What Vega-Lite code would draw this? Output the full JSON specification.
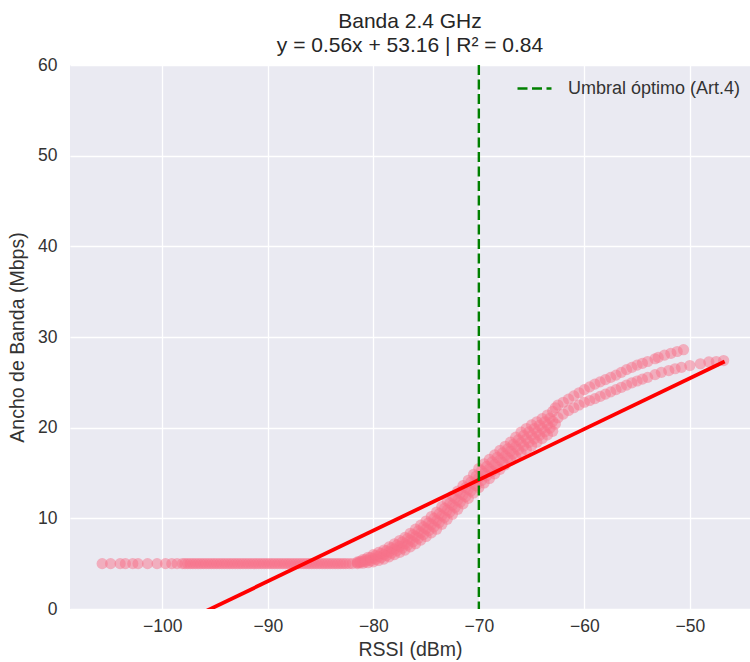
{
  "$schema": "https://vega.github.io/schema/vega-lite/v6.json",
  "width": 680,
  "height": 544,
  "autosize": {"type": "none"},
  "padding": {"left": 70, "top": 65, "right": 0, "bottom": 53},
  "background": "white",
  "title": {
    "text": ["Banda 2.4 GHz", "y = 0.56x + 53.16 | R² = 0.84"],
    "fontSize": 21,
    "fontWeight": "normal",
    "font": "Liberation Sans",
    "color": "#262626",
    "anchor": "middle",
    "lineHeight": 24,
    "offset": 0
  },
  "config": {
    "view": {"fill": "#EAEAF2", "stroke": null},
    "font": "Liberation Sans",
    "axis": {
      "domain": false,
      "ticks": false,
      "grid": true,
      "gridColor": "#ffffff",
      "gridWidth": 1.3,
      "labelFont": "Liberation Sans",
      "labelFontSize": 17.5,
      "labelColor": "#333333",
      "titleFont": "Liberation Sans",
      "titleFontSize": 19.5,
      "titleFontWeight": "normal",
      "titleColor": "#333333"
    }
  },
  "datasets": {
    "pts": [
      {"rssi": -105.7, "bw": 5}, {"rssi": -104.9, "bw": 5}, {"rssi": -104.0, "bw": 5}, {"rssi": -103.5, "bw": 5},
      {"rssi": -102.8, "bw": 5}, {"rssi": -102.3, "bw": 5}, {"rssi": -101.4, "bw": 5}, {"rssi": -100.5, "bw": 5},
      {"rssi": -99.7, "bw": 5}, {"rssi": -99.1, "bw": 5}, {"rssi": -98.6, "bw": 5}, {"rssi": -98.1, "bw": 5},
      {"rssi": -97.6, "bw": 5}, {"rssi": -97.1, "bw": 5}, {"rssi": -96.6, "bw": 5}, {"rssi": -96.1, "bw": 5},
      {"rssi": -95.6, "bw": 5}, {"rssi": -95.1, "bw": 5}, {"rssi": -94.6, "bw": 5}, {"rssi": -94.1, "bw": 5},
      {"rssi": -93.6, "bw": 5}, {"rssi": -93.1, "bw": 5}, {"rssi": -92.6, "bw": 5}, {"rssi": -92.1, "bw": 5},
      {"rssi": -91.6, "bw": 5}, {"rssi": -91.1, "bw": 5}, {"rssi": -90.6, "bw": 5}, {"rssi": -90.1, "bw": 5},
      {"rssi": -89.6, "bw": 5}, {"rssi": -89.1, "bw": 5}, {"rssi": -88.6, "bw": 5}, {"rssi": -88.1, "bw": 5},
      {"rssi": -87.6, "bw": 5}, {"rssi": -87.1, "bw": 5}, {"rssi": -86.6, "bw": 5}, {"rssi": -86.1, "bw": 5},
      {"rssi": -85.6, "bw": 5}, {"rssi": -85.1, "bw": 5}, {"rssi": -84.6, "bw": 5}, {"rssi": -84.1, "bw": 5},
      {"rssi": -83.6, "bw": 5}, {"rssi": -83.1, "bw": 5}, {"rssi": -82.6, "bw": 5}, {"rssi": -82.0, "bw": 5},
      {"rssi": -97.85, "bw": 5}, {"rssi": -97.35, "bw": 5}, {"rssi": -96.85, "bw": 5}, {"rssi": -96.35, "bw": 5},
      {"rssi": -95.85, "bw": 5}, {"rssi": -95.35, "bw": 5}, {"rssi": -94.85, "bw": 5}, {"rssi": -94.35, "bw": 5},
      {"rssi": -93.85, "bw": 5}, {"rssi": -93.35, "bw": 5}, {"rssi": -92.85, "bw": 5}, {"rssi": -92.35, "bw": 5},
      {"rssi": -91.85, "bw": 5}, {"rssi": -91.35, "bw": 5}, {"rssi": -90.85, "bw": 5}, {"rssi": -90.35, "bw": 5},
      {"rssi": -89.85, "bw": 5}, {"rssi": -89.35, "bw": 5}, {"rssi": -88.85, "bw": 5}, {"rssi": -88.35, "bw": 5},
      {"rssi": -87.85, "bw": 5}, {"rssi": -87.35, "bw": 5}, {"rssi": -86.85, "bw": 5}, {"rssi": -86.35, "bw": 5},
      {"rssi": -85.85, "bw": 5}, {"rssi": -85.35, "bw": 5}, {"rssi": -84.85, "bw": 5}, {"rssi": -84.35, "bw": 5},
      {"rssi": -83.85, "bw": 5}, {"rssi": -83.35, "bw": 5}, {"rssi": -82.85, "bw": 5}, {"rssi": -82.3, "bw": 5},
      {"rssi": -81.5, "bw": 5.0}, {"rssi": -81.5, "bw": 5.1}, {"rssi": -81.5, "bw": 5.2},
      {"rssi": -81.0, "bw": 5.05}, {"rssi": -81.0, "bw": 5.25}, {"rssi": -81.0, "bw": 5.45},
      {"rssi": -80.5, "bw": 5.1}, {"rssi": -80.5, "bw": 5.4}, {"rssi": -80.5, "bw": 5.7},
      {"rssi": -80.0, "bw": 5.2}, {"rssi": -80.0, "bw": 5.6}, {"rssi": -80.0, "bw": 6.0},
      {"rssi": -79.5, "bw": 5.35}, {"rssi": -79.5, "bw": 5.8}, {"rssi": -79.5, "bw": 6.25},
      {"rssi": -79.0, "bw": 5.5}, {"rssi": -79.0, "bw": 6.0}, {"rssi": -79.0, "bw": 6.5},
      {"rssi": -78.5, "bw": 5.75}, {"rssi": -78.5, "bw": 6.3}, {"rssi": -78.5, "bw": 6.85},
      {"rssi": -78.0, "bw": 6.0}, {"rssi": -78.0, "bw": 6.6}, {"rssi": -78.0, "bw": 7.2},
      {"rssi": -77.5, "bw": 6.25}, {"rssi": -77.5, "bw": 6.9}, {"rssi": -77.5, "bw": 7.55},
      {"rssi": -77.0, "bw": 6.5}, {"rssi": -77.0, "bw": 7.2}, {"rssi": -77.0, "bw": 7.9},
      {"rssi": -76.5, "bw": 6.85}, {"rssi": -76.5, "bw": 7.6}, {"rssi": -76.5, "bw": 8.35},
      {"rssi": -76.0, "bw": 7.2}, {"rssi": -76.0, "bw": 8.0}, {"rssi": -76.0, "bw": 8.8},
      {"rssi": -75.5, "bw": 7.6}, {"rssi": -75.5, "bw": 8.4}, {"rssi": -75.5, "bw": 9.25},
      {"rssi": -75.0, "bw": 8.0}, {"rssi": -75.0, "bw": 8.85}, {"rssi": -75.0, "bw": 9.7},
      {"rssi": -74.5, "bw": 8.4}, {"rssi": -74.5, "bw": 9.3}, {"rssi": -74.5, "bw": 10.2},
      {"rssi": -74.0, "bw": 8.8}, {"rssi": -74.0, "bw": 9.75}, {"rssi": -74.0, "bw": 10.7},
      {"rssi": -73.5, "bw": 9.35}, {"rssi": -73.5, "bw": 10.3}, {"rssi": -73.5, "bw": 11.3},
      {"rssi": -73.0, "bw": 9.9}, {"rssi": -73.0, "bw": 10.9}, {"rssi": -73.0, "bw": 11.9},
      {"rssi": -72.5, "bw": 10.45}, {"rssi": -72.5, "bw": 11.45}, {"rssi": -72.5, "bw": 12.45},
      {"rssi": -72.0, "bw": 11.0}, {"rssi": -72.0, "bw": 12.0}, {"rssi": -72.0, "bw": 13.0},
      {"rssi": -71.5, "bw": 11.6}, {"rssi": -71.5, "bw": 12.6}, {"rssi": -71.5, "bw": 13.6},
      {"rssi": -71.0, "bw": 12.2}, {"rssi": -71.0, "bw": 13.2}, {"rssi": -71.0, "bw": 14.2},
      {"rssi": -70.5, "bw": 12.8}, {"rssi": -70.5, "bw": 13.8}, {"rssi": -70.5, "bw": 14.85},
      {"rssi": -70.0, "bw": 13.4}, {"rssi": -70.0, "bw": 14.45}, {"rssi": -70.0, "bw": 15.5},
      {"rssi": -69.5, "bw": 13.9}, {"rssi": -69.5, "bw": 14.95}, {"rssi": -69.5, "bw": 16.0},
      {"rssi": -69.0, "bw": 14.4}, {"rssi": -69.0, "bw": 15.45}, {"rssi": -69.0, "bw": 16.5},
      {"rssi": -68.5, "bw": 14.9}, {"rssi": -68.5, "bw": 15.95}, {"rssi": -68.5, "bw": 17.0},
      {"rssi": -68.0, "bw": 15.4}, {"rssi": -68.0, "bw": 16.45}, {"rssi": -68.0, "bw": 17.5},
      {"rssi": -67.5, "bw": 15.9}, {"rssi": -67.5, "bw": 16.9}, {"rssi": -67.5, "bw": 17.95},
      {"rssi": -67.0, "bw": 16.4}, {"rssi": -67.0, "bw": 17.4}, {"rssi": -67.0, "bw": 18.4},
      {"rssi": -66.5, "bw": 16.8}, {"rssi": -66.5, "bw": 17.9}, {"rssi": -66.5, "bw": 18.95},
      {"rssi": -66.0, "bw": 17.2}, {"rssi": -66.0, "bw": 18.35}, {"rssi": -66.0, "bw": 19.5},
      {"rssi": -65.5, "bw": 17.6}, {"rssi": -65.5, "bw": 18.75}, {"rssi": -65.5, "bw": 19.9},
      {"rssi": -65.0, "bw": 18.0}, {"rssi": -65.0, "bw": 19.15}, {"rssi": -65.0, "bw": 20.3},
      {"rssi": -64.5, "bw": 18.4}, {"rssi": -64.5, "bw": 19.5}, {"rssi": -64.5, "bw": 20.65},
      {"rssi": -64.0, "bw": 18.8}, {"rssi": -64.0, "bw": 19.9}, {"rssi": -64.0, "bw": 21.0},
      {"rssi": -63.5, "bw": 19.2}, {"rssi": -63.5, "bw": 20.3}, {"rssi": -63.5, "bw": 21.4},
      {"rssi": -63.0, "bw": 19.6}, {"rssi": -63.0, "bw": 20.7}, {"rssi": -63.0, "bw": 21.8},
      {"rssi": -81.25, "bw": 5.1}, {"rssi": -81.25, "bw": 5.25},
      {"rssi": -80.75, "bw": 5.2}, {"rssi": -80.75, "bw": 5.45},
      {"rssi": -80.25, "bw": 5.33}, {"rssi": -80.25, "bw": 5.68},
      {"rssi": -79.75, "bw": 5.49}, {"rssi": -79.75, "bw": 5.92},
      {"rssi": -79.25, "bw": 5.67}, {"rssi": -79.25, "bw": 6.14},
      {"rssi": -78.75, "bw": 5.89}, {"rssi": -78.75, "bw": 6.42},
      {"rssi": -78.25, "bw": 6.17}, {"rssi": -78.25, "bw": 6.74},
      {"rssi": -77.75, "bw": 6.44}, {"rssi": -77.75, "bw": 7.07},
      {"rssi": -77.25, "bw": 6.72}, {"rssi": -77.25, "bw": 7.39},
      {"rssi": -76.75, "bw": 7.04}, {"rssi": -76.75, "bw": 7.77},
      {"rssi": -76.25, "bw": 7.42}, {"rssi": -76.25, "bw": 8.19},
      {"rssi": -75.75, "bw": 7.81}, {"rssi": -75.75, "bw": 8.62},
      {"rssi": -75.25, "bw": 8.22}, {"rssi": -75.25, "bw": 9.06},
      {"rssi": -74.75, "bw": 8.64}, {"rssi": -74.75, "bw": 9.51},
      {"rssi": -74.25, "bw": 9.06}, {"rssi": -74.25, "bw": 9.99},
      {"rssi": -73.75, "bw": 9.56}, {"rssi": -73.75, "bw": 10.52},
      {"rssi": -73.25, "bw": 10.12}, {"rssi": -73.25, "bw": 11.11},
      {"rssi": -72.75, "bw": 10.68}, {"rssi": -72.75, "bw": 11.68},
      {"rssi": -72.25, "bw": 11.23}, {"rssi": -72.25, "bw": 12.23},
      {"rssi": -71.75, "bw": 11.8}, {"rssi": -71.75, "bw": 12.8},
      {"rssi": -71.25, "bw": 12.4}, {"rssi": -71.25, "bw": 13.4},
      {"rssi": -70.75, "bw": 13.01}, {"rssi": -70.75, "bw": 14.02},
      {"rssi": -70.25, "bw": 13.62}, {"rssi": -70.25, "bw": 14.66},
      {"rssi": -69.75, "bw": 14.18}, {"rssi": -69.75, "bw": 15.23},
      {"rssi": -69.25, "bw": 14.68}, {"rssi": -69.25, "bw": 15.73},
      {"rssi": -68.75, "bw": 15.18}, {"rssi": -68.75, "bw": 16.23},
      {"rssi": -68.25, "bw": 15.68}, {"rssi": -68.25, "bw": 16.73},
      {"rssi": -67.75, "bw": 16.17}, {"rssi": -67.75, "bw": 17.21},
      {"rssi": -67.25, "bw": 16.66}, {"rssi": -67.25, "bw": 17.67},
      {"rssi": -66.75, "bw": 17.12}, {"rssi": -66.75, "bw": 18.16},
      {"rssi": -66.25, "bw": 17.56}, {"rssi": -66.25, "bw": 18.67},
      {"rssi": -65.75, "bw": 17.98}, {"rssi": -65.75, "bw": 19.13},
      {"rssi": -65.25, "bw": 18.38}, {"rssi": -65.25, "bw": 19.53},
      {"rssi": -64.75, "bw": 18.77}, {"rssi": -64.75, "bw": 19.91},
      {"rssi": -64.25, "bw": 19.16}, {"rssi": -64.25, "bw": 20.27},
      {"rssi": -63.75, "bw": 19.55}, {"rssi": -63.75, "bw": 20.65},
      {"rssi": -63.25, "bw": 19.95}, {"rssi": -63.25, "bw": 21.05},
      {"rssi": -62.75, "bw": 20.4}, {"rssi": -62.75, "bw": 22.2},
      {"rssi": -62.5, "bw": 22.5}, {"rssi": -62.0, "bw": 22.8}, {"rssi": -61.5, "bw": 23.15}, {"rssi": -61.0, "bw": 23.5},
      {"rssi": -60.5, "bw": 23.85}, {"rssi": -60.0, "bw": 24.2}, {"rssi": -59.5, "bw": 24.5}, {"rssi": -59.0, "bw": 24.8},
      {"rssi": -58.5, "bw": 25.05}, {"rssi": -58.0, "bw": 25.3}, {"rssi": -57.5, "bw": 25.55}, {"rssi": -57.0, "bw": 25.8},
      {"rssi": -56.5, "bw": 26.1}, {"rssi": -56.0, "bw": 26.4}, {"rssi": -55.5, "bw": 26.65}, {"rssi": -55.0, "bw": 26.9},
      {"rssi": -54.5, "bw": 27.1}, {"rssi": -54.0, "bw": 27.3}, {"rssi": -53.3, "bw": 27.6}, {"rssi": -53.0, "bw": 27.75},
      {"rssi": -52.4, "bw": 28.0}, {"rssi": -51.8, "bw": 28.2}, {"rssi": -51.2, "bw": 28.4}, {"rssi": -50.6, "bw": 28.6},
      {"rssi": -62.5, "bw": 21.1}, {"rssi": -62.0, "bw": 21.5}, {"rssi": -61.5, "bw": 21.9}, {"rssi": -61.0, "bw": 22.2},
      {"rssi": -60.5, "bw": 22.5}, {"rssi": -60.0, "bw": 22.8}, {"rssi": -59.5, "bw": 23.0}, {"rssi": -59.0, "bw": 23.2},
      {"rssi": -58.5, "bw": 23.45}, {"rssi": -58.0, "bw": 23.7}, {"rssi": -57.5, "bw": 23.95}, {"rssi": -57.0, "bw": 24.2},
      {"rssi": -56.5, "bw": 24.45}, {"rssi": -56.0, "bw": 24.7}, {"rssi": -55.5, "bw": 24.95}, {"rssi": -55.0, "bw": 25.15},
      {"rssi": -54.5, "bw": 25.35}, {"rssi": -54.0, "bw": 25.55}, {"rssi": -53.3, "bw": 25.85}, {"rssi": -52.7, "bw": 26.1},
      {"rssi": -52.0, "bw": 26.3}, {"rssi": -51.4, "bw": 26.5}, {"rssi": -50.8, "bw": 26.65}, {"rssi": -50.0, "bw": 26.85},
      {"rssi": -49.0, "bw": 27.05}, {"rssi": -48.2, "bw": 27.25}, {"rssi": -47.5, "bw": 27.3}, {"rssi": -46.8, "bw": 27.4}
    ],
    "fit": [
      {"rssi": -105.7, "bw": -5.74},
      {"rssi": -46.7, "bw": 27.3}
    ],
    "umbral": [
      {"rssi": -70, "label": "Umbral óptimo (Art.4)"}
    ]
  },
  "layer": [
    {
      "data": {"name": "pts"},
      "mark": {"type": "circle", "color": "#f77189", "opacity": 0.5, "size": 125, "clip": true},
      "encoding": {
        "x": {
          "field": "rssi", "type": "quantitative",
          "scale": {"domain": [-108.75, -44.3], "nice": false, "zero": false},
          "axis": {"values": [-100, -90, -80, -70, -60, -50], "title": "RSSI (dBm)", "labelPadding": 8, "titlePadding": 6}
        },
        "y": {
          "field": "bw", "type": "quantitative",
          "scale": {"domain": [0, 60], "nice": false, "zero": false},
          "axis": {"values": [0, 10, 20, 30, 40, 50, 60], "title": "Ancho de Banda (Mbps)", "labelPadding": 13, "titlePadding": 10}
        }
      }
    },
    {
      "data": {"name": "fit"},
      "mark": {"type": "line", "color": "#ff0000", "strokeWidth": 3.8, "clip": true},
      "encoding": {
        "x": {"field": "rssi", "type": "quantitative"},
        "y": {"field": "bw", "type": "quantitative"}
      }
    },
    {
      "data": {"name": "umbral"},
      "mark": {"type": "rule", "strokeWidth": 2.4, "strokeDash": [10, 4.5]},
      "encoding": {
        "x": {"field": "rssi", "type": "quantitative"},
        "color": {
          "field": "label", "type": "nominal",
          "scale": {"range": ["#008000"]},
          "legend": {
            "title": null,
            "orient": "none",
            "legendX": 446,
            "legendY": 5,
            "padding": 0,
            "symbolType": "stroke",
            "symbolSize": 1156,
            "symbolStrokeWidth": 2.4,
            "symbolDash": [10, 4.5],
            "labelFont": "Liberation Sans",
            "labelFontSize": 18,
            "labelLimit": 400,
            "labelColor": "#333333",
            "labelOffset": 15
          }
        }
      }
    }
  ]
}
